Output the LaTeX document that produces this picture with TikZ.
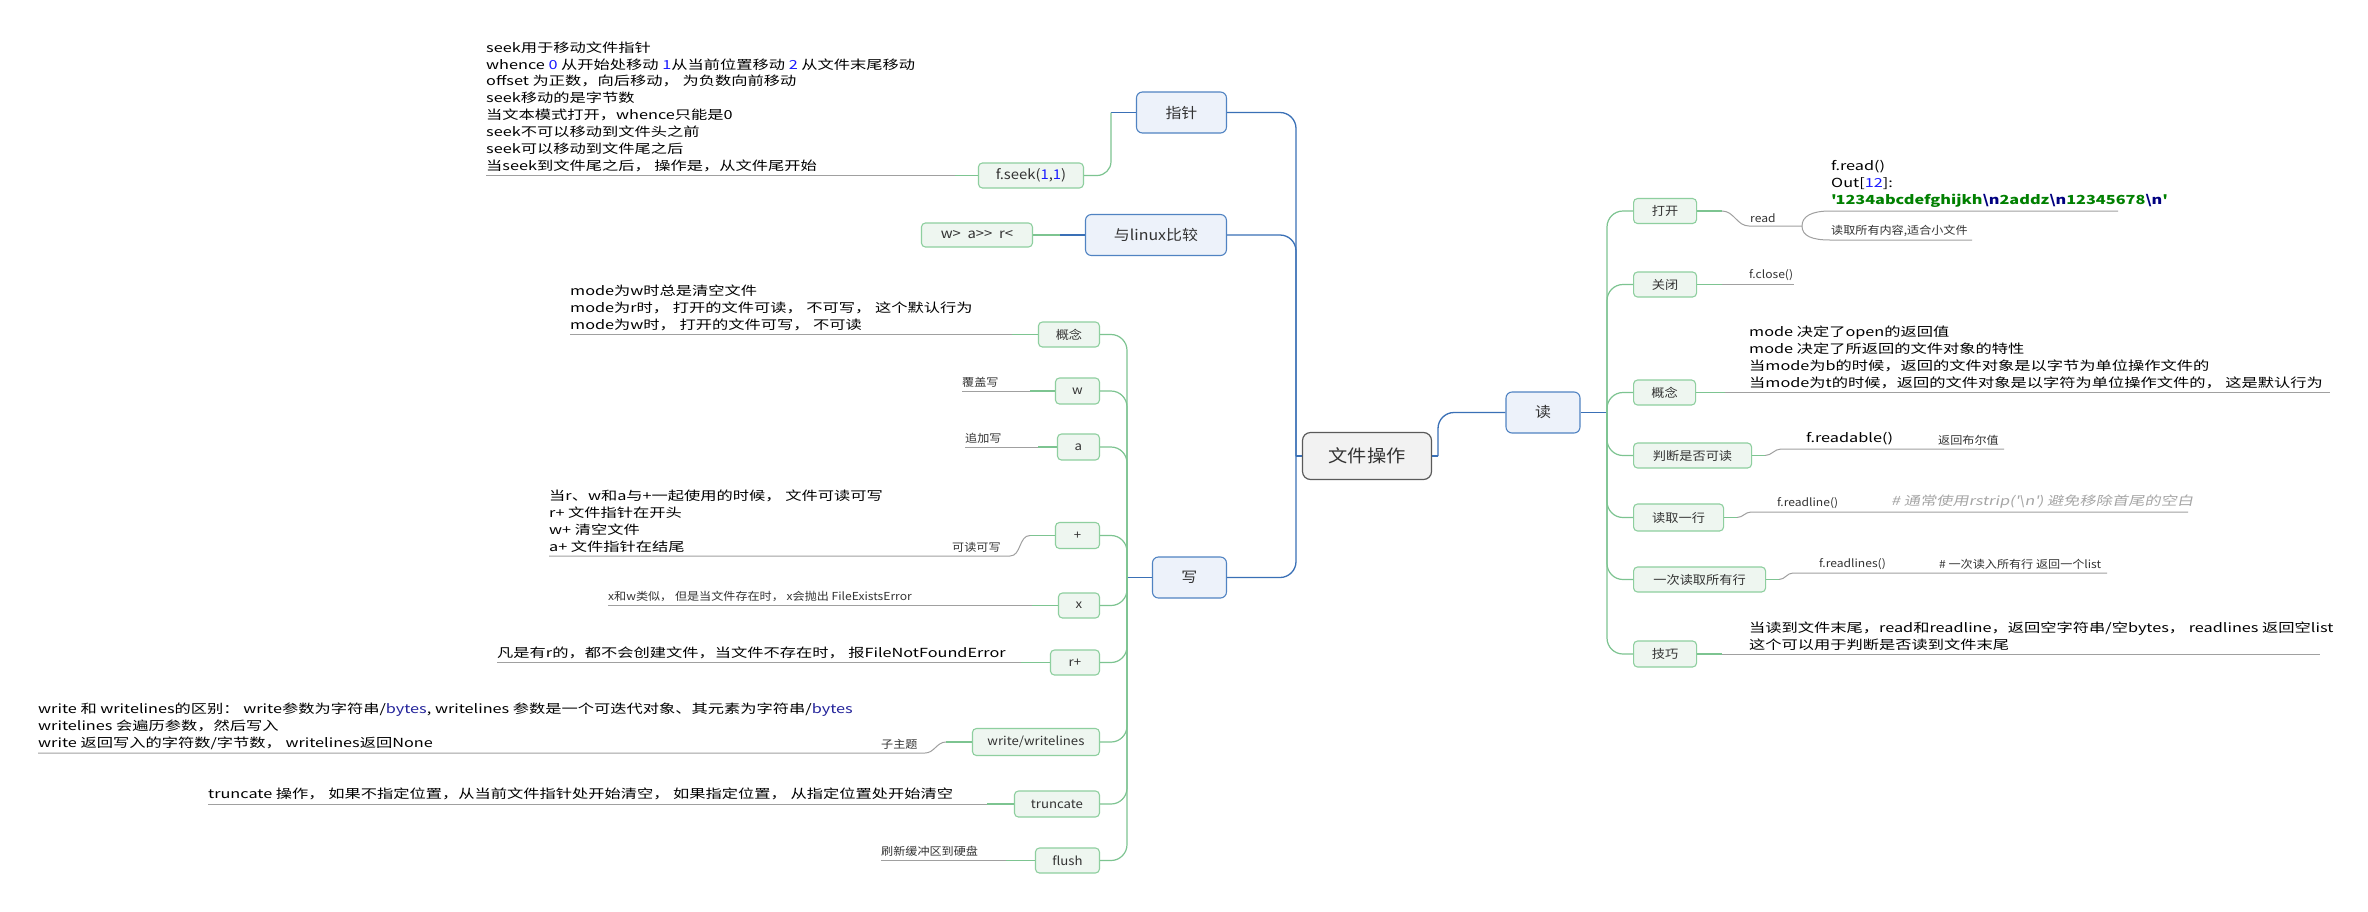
\documentclass[tikz,border=0pt]{standalone}
\usepackage{fontspec}
\setmainfont{Noto Sans CJK SC}[FakeStretch=1.3]
\newfontfamily\mmlab{Noto Sans CJK SC}[FakeStretch=1.1]
\newfontfamily\mmslant{Noto Sans CJK SC}[FakeStretch=1.3,FakeSlant=0.2]
\usetikzlibrary{positioning}

\definecolor{mmrootfill}{HTML}{F2F2F2}
\definecolor{mmrootline}{HTML}{5A5A5A}
\definecolor{mmbluefill}{HTML}{EDF2FA}
\definecolor{mmblueedge}{HTML}{5083C2}
\definecolor{mmblueline}{HTML}{3A70B6}
\definecolor{mmgreenfill}{HTML}{EEF6F0}
\definecolor{mmgreenedge}{HTML}{8ECF9F}
\definecolor{mmgreen}{HTML}{7DC491}
\definecolor{mmgray}{HTML}{A0A0A0}
\definecolor{mmtxt}{HTML}{333333}
\definecolor{mmitaltxt}{HTML}{A6A6A6}
\definecolor{mmdigit}{HTML}{1A1AFF}
\definecolor{mmcgreen}{HTML}{008000}
\definecolor{mmnavy}{HTML}{000080}
\definecolor{mmbytes}{HTML}{22229A}

\newcommand\mmroot{\mmlab\fontsize{17.5}{21}\selectfont}
\newcommand\mmmain{\mmlab\fontsize{14.5}{17}\selectfont}
\newcommand\mmsub{\mmlab\fontsize{12}{14}\selectfont}
\newcommand\mmcode{\mmlab\fontsize{13.5}{16}\selectfont}
\newcommand\mmnote{\fontsize{12.5}{16.9}\selectfont}
\newcommand\mmital{\mmslant\fontsize{12.5}{16.9}\selectfont}
\newcommand\mmsmall{\mmlab\fontsize{11}{13}\selectfont}

\begin{document}
\begin{tikzpicture}[x=1pt, y=-1pt,
    rootbox/.style={draw=mmrootline, fill=mmrootfill, rounded corners=8pt, line width=1.2pt,
                    font=\mmroot, text=mmtxt, minimum height=47pt},
    mainbox/.style={draw=mmblueedge, fill=mmbluefill, rounded corners=6pt, line width=1.1pt,
                    font=\mmmain, text=mmtxt, minimum height=41pt},
    subbox/.style={draw=mmgreenedge, fill=mmgreenfill, rounded corners=4pt, line width=1.1pt,
                   font=\mmsub, text=mmtxt, minimum height=25pt, inner xsep=3pt},
    note/.style={anchor=south west, inner sep=0pt, align=left, font=\mmnote, text=black},
    snote/.style={note, font=\mmsmall, text=mmtxt},
    bconn/.style={draw=mmblueline, line width=1.3pt, rounded corners=16pt},
    gconn/.style={draw=mmgreen, line width=1.2pt, rounded corners=16pt},
    uline/.style={draw=mmgray, line width=1pt}
  ]
    \fill[white] (0,0) rectangle (2368,911);
    \useasboundingbox (0,0) rectangle (2368,911);

    % Root and main branches
    \node[rootbox, minimum width=129pt] (root) at (1367,456) {文件操作};
    \node[mainbox, minimum width=74pt] (rd) at (1543,412.5) {读};
    \node[mainbox, minimum width=90pt, anchor=east] (ptr) at (1227,112.5) {指针};
    \node[mainbox, minimum width=141pt, anchor=east] (linux) at (1227,235) {与linux比较};
    \node[mainbox, minimum width=74pt, anchor=east] (wr) at (1227,577.5) {写};

    \coordinate (ltrunk) at (1296,456);
    \coordinate (rstub) at (1438,456);
    \draw[bconn] (root.west) -- (ltrunk);
    \foreach \n in {ptr,linux,wr} \draw[bconn] (ltrunk) |- (\n.east);
    \draw[bconn] (root.east) -- (rstub);
    \draw[bconn] (rstub) |- (rd.west);

    % Read branch
    \coordinate (rtrunk) at (1607,412.5);
    \draw[bconn] (rd.east) -- (rtrunk);
    \node[subbox, anchor=west, minimum width=63pt] (open) at (1633,211) {打开};
    \node[subbox, anchor=west, minimum width=63pt] (close) at (1633,284.5) {关闭};
    \node[subbox, anchor=west, minimum width=62pt] (rcon) at (1633,392.5) {概念};
    \node[subbox, anchor=west, minimum width=118pt] (rable) at (1633,455.5) {判断是否可读};
    \node[subbox, anchor=west, minimum width=90pt, minimum height=27pt] (rline) at (1633,517.5) {读取一行};
    \node[subbox, anchor=west, minimum width=132pt] (rlines) at (1633,579.5) {一次读取所有行};
    \node[subbox, anchor=west, minimum width=63pt, minimum height=26pt] (tips) at (1633,654) {技巧};
    \foreach \n in {open,close,rcon,rable,rline,rlines,tips} \draw[gconn] (rtrunk) |- (\n.west);

    % open
    \coordinate (op-a) at (1722,211);
    \coordinate (op-b) at (1749,226);
    \coordinate (op-c) at (1802,226);
    \coordinate (op-d) at (1830,211);
    \coordinate (op-e) at (2118,211);
    \coordinate (op-f) at (1830,240);
    \coordinate (op-g) at (1972,240);
    \draw[gconn] (open.east) -- (op-a);
    \draw[uline] (op-a) to[out=0,in=180] (op-b) -- (op-c);
    \draw[uline] (op-c) .. controls (1802,216) and (1812,211) .. (op-d) -- (op-e);
    \draw[uline] (op-c) .. controls (1802,236) and (1812,240) .. (op-f) -- (op-g);
    \node[snote] (read) at (1750,223) {read};
    \node[note] (fread) at (1831,207.5) {f.read()\\Out[{\color{mmdigit}12}]:\\{\bfseries\color{mmcgreen}\textquotesingle 1234abcdefghijkh{\color{mmnavy}\textbackslash n}2addz{\color{mmnavy}\textbackslash n}12345678{\color{mmnavy}\textbackslash n}\textquotesingle}};
    \node[snote] (readall) at (1831,237) {读取所有内容,适合小文件};

    % close
    \coordinate (cl-a) at (1722,284.5);
    \coordinate (cl-b) at (1794,284.5);
    \draw[gconn] (close.east) -- (cl-a);
    \draw[uline] (cl-a) -- (cl-b);
    \node[snote] (fclose) at (1749,281) {f.close()};

    % mode
    \coordinate (rc-a) at (1725,392.5);
    \coordinate (rc-b) at (2330,392.5);
    \draw[gconn] (rcon.east) -- (rc-a);
    \draw[uline] (rc-a) -- (rc-b);
    \node[note] (rctext) at (1749,389) {mode 决定了open的返回值\\mode 决定了所返回的文件对象的特性\\当mode为b的时候，返回的文件对象是以字节为单位操作文件的\\当mode为t的时候，返回的文件对象是以字符为单位操作文件的， 这是默认行为};

    % readable
    \coordinate (ra-a) at (1765,455.5);
    \coordinate (ra-b) at (1781,449);
    \coordinate (ra-c) at (2004,449);
    \draw[gconn] (rable.east) -- (ra-a);
    \draw[uline] (ra-a) to[out=0,in=180] (ra-b) -- (ra-c);
    \node[note] (freadable) at (1806,445.5) {f.readable()};
    \node[snote] (bool) at (1938,446) {返回布尔值};

    % readline
    \coordinate (rl-a) at (1737,517.5);
    \coordinate (rl-b) at (1751,512);
    \coordinate (rl-c) at (2188,512);
    \draw[gconn] (rline.east) -- (rl-a);
    \draw[uline] (rl-a) to[out=0,in=180] (rl-b) -- (rl-c);
    \node[snote] (freadline) at (1777,509) {f.readline()};
    \node[note, font=\mmital, text=mmitaltxt] (strip) at (1891,508.5) {\# 通常使用rstrip(\textquotesingle\textbackslash n\textquotesingle) 避免移除首尾的空白};

    % readlines
    \coordinate (rs-a) at (1779,579.5);
    \coordinate (rs-b) at (1793,573);
    \coordinate (rs-c) at (2107,573);
    \draw[gconn] (rlines.east) -- (rs-a);
    \draw[uline] (rs-a) to[out=0,in=180] (rs-b) -- (rs-c);
    \node[snote] (freadlines) at (1819,570) {f.readlines()};
    \node[snote] (list) at (1939,570) {\# 一次读入所有行 返回一个list};

    % tips
    \coordinate (tp-a) at (1722,654);
    \coordinate (tp-b) at (2320,654);
    \draw[gconn] (tips.east) -- (tp-a);
    \draw[uline] (tp-a) -- (tp-b);
    \node[note] (tiptext) at (1749,650.5) {当读到文件末尾，read和readline，返回空字符串/空bytes， readlines 返回空list\\这个可以用于判断是否读到文件末尾};

    % Pointer branch
    \node[subbox, anchor=east, minimum width=105pt, font=\mmcode] (fseek) at (1084,175.5) {f.seek({\color{mmdigit}1},{\color{mmdigit}1})};
    \coordinate (pt-a) at (1111,112.5);
    \draw[bconn] (ptr.west) -- (pt-a);
    \draw[gconn, rounded corners=14pt] (pt-a) |- (fseek.east);
    \coordinate (fs-a) at (486,175.5);
    \coordinate (fs-b) at (955,175.5);
    \draw[uline] (fs-a) -- (fs-b);
    \draw[gconn] (fs-b) -- (fseek.west);
    \node[note] (seektext) at (486,172) {seek用于移动文件指针\\whence {\color{mmdigit}0} 从开始处移动 {\color{mmdigit}1}从当前位置移动 {\color{mmdigit}2} 从文件末尾移动\\offset 为正数，向后移动， 为负数向前移动\\seek移动的是字节数\\当文本模式打开，whence只能是0\\seek不可以移动到文件头之前\\seek可以移动到文件尾之后\\当seek到文件尾之后， 操作是，从文件尾开始};

    % Linux branch
    \node[subbox, anchor=east, minimum width=111pt, minimum height=24pt, font=\mmcode] (redir) at (1033,235) {w>~~a>>~~r<};
    \coordinate (lx-a) at (1060,235);
    \draw[bconn] (linux.west) -- (lx-a);
    \draw[gconn] (lx-a) -- (redir.east);

    % Write branch
    \coordinate (wtrunk) at (1127,577.5);
    \draw[bconn] (wr.west) -- (wtrunk);
    \node[subbox, anchor=east, minimum width=61pt] (lcon) at (1100,334.5) {概念};
    \node[subbox, anchor=east, minimum width=44pt, minimum height=26pt] (wmode) at (1100,391) {w};
    \node[subbox, anchor=east, minimum width=42pt, minimum height=26pt] (amode) at (1100,447) {a};
    \node[subbox, anchor=east, minimum width=44pt, minimum height=26pt] (plus) at (1100,535.5) {+};
    \node[subbox, anchor=east, minimum width=41pt] (xmode) at (1100,605.5) {x};
    \node[subbox, anchor=east, minimum width=49pt] (rplus) at (1100,662.5) {r+};
    \node[subbox, anchor=east, minimum width=127pt, minimum height=27pt] (wlines) at (1100,742) {write/writelines};
    \node[subbox, anchor=east, minimum width=85pt, minimum height=26pt] (trunc) at (1100,804) {truncate};
    \node[subbox, anchor=east, minimum width=64pt] (flush) at (1100,860.5) {flush};
    \foreach \n in {lcon,wmode,amode,plus,xmode,rplus,wlines,trunc,flush} \draw[gconn] (wtrunk) |- (\n.east);

    % mode
    \coordinate (lc-a) at (570,334.5);
    \coordinate (lc-b) at (1012,334.5);
    \draw[uline] (lc-a) -- (lc-b);
    \draw[gconn] (lc-b) -- (lcon.west);
    \node[note] (lctext) at (570,331) {mode为w时总是清空文件\\mode为r时， 打开的文件可读， 不可写， 这个默认行为\\mode为w时， 打开的文件可写， 不可读};

    % w / a
    \coordinate (wm-a) at (962,391);
    \coordinate (wm-b) at (1030,391);
    \draw[uline] (wm-a) -- (wm-b);
    \draw[gconn] (wm-b) -- (wmode.west);
    \node[snote] (wtext) at (962,388) {覆盖写};
    \coordinate (am-a) at (965,447);
    \coordinate (am-b) at (1038,447);
    \draw[uline] (am-a) -- (am-b);
    \draw[gconn] (am-b) -- (amode.west);
    \node[snote] (atext) at (965,444) {追加写};

    % plus
    \coordinate (pl-a) at (1030,535.5);
    \coordinate (pl-b) at (1010,556);
    \coordinate (pl-c) at (549,556);
    \draw[gconn] (plus.west) -- (pl-a);
    \draw[uline] (pl-a) to[out=180,in=0] (pl-b) -- (pl-c);
    \node[snote] (rwtext) at (952,553) {可读可写};
    \node[note] (plustext) at (549,552.5) {当r、w和a与+一起使用的时候， 文件可读可写\\r+ 文件指针在开头\\w+ 清空文件\\a+ 文件指针在结尾};

    % x
    \coordinate (xm-a) at (608,605.5);
    \coordinate (xm-b) at (1032,605.5);
    \draw[uline] (xm-a) -- (xm-b);
    \draw[gconn] (xm-b) -- (xmode.west);
    \node[snote] (xtext) at (608,602) {x和w类似， 但是当文件存在时， x会抛出 FileExistsError};

    % r+
    \coordinate (rp-a) at (497,662.5);
    \coordinate (rp-b) at (1021,662.5);
    \draw[uline] (rp-a) -- (rp-b);
    \draw[gconn] (rp-b) -- (rplus.west);
    \node[note] (rptext) at (497,659) {凡是有r的，都不会创建文件，当文件不存在时， 报FileNotFoundError};

    % write/writelines
    \coordinate (wl-a) at (946,742);
    \coordinate (wl-b) at (925,753);
    \coordinate (wl-c) at (38,753);
    \draw[gconn] (wlines.west) -- (wl-a);
    \draw[uline] (wl-a) to[out=180,in=0] (wl-b) -- (wl-c);
    \node[snote] (subtopic) at (881,750) {子主题};
    \node[note] (wltext) at (38,749.5) {write 和 writelines的区别： write参数为字符串/{\color{mmbytes}bytes}, writelines 参数是一个可迭代对象、其元素为字符串/{\color{mmbytes}bytes}\\writelines 会遍历参数，然后写入\\write 返回写入的字符数/字节数， writelines返回None};

    % truncate
    \coordinate (tr-a) at (208,804);
    \coordinate (tr-b) at (987,804);
    \draw[uline] (tr-a) -- (tr-b);
    \draw[gconn] (tr-b) -- (trunc.west);
    \node[note] (trtext) at (208,800.5) {truncate 操作， 如果不指定位置，从当前文件指针处开始清空， 如果指定位置， 从指定位置处开始清空};

    % flush
    \coordinate (fl-a) at (881,860.5);
    \coordinate (fl-b) at (1006,860.5);
    \draw[uline] (fl-a) -- (fl-b);
    \draw[gconn] (fl-b) -- (flush.west);
    \node[snote] (fltext) at (881,857) {刷新缓冲区到硬盘};
  \end{tikzpicture}
\end{document}
